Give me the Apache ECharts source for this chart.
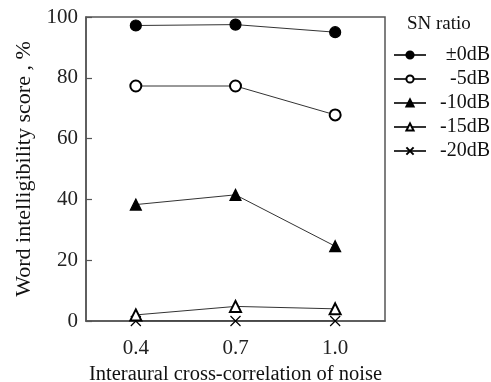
<!DOCTYPE html>
<html><head><meta charset="utf-8">
<script src="https://cdn.jsdelivr.net/npm/echarts@6/dist/echarts.min.js"></script>
<style>html,body{margin:0;padding:0;background:#fff}#c{width:491px;height:382px}</style>
</head><body><div id="c"></div>
<script>
const categories = ['0.4', '0.7', '1.0'];
const seriesNames = ['±0dB', '-5dB', '-10dB', '-15dB', '-20dB'];
const s0dB = [97.2, 97.5, 95.0];
const s5dB = [77.3, 77.3, 67.8];
const s10dB = [38.3, 41.5, 24.6];
const s15dB = [2.0, 4.8, 4.0];
const s20dB = [0, 0, 0];
const yTicks = [0, 20, 40, 60, 80, 100];

const FONT = '"Liberation Serif", "Times New Roman", serif';
const crossPath = 'path://M0,0L10,10M10,0L0,10';
const datas = [s0dB, s5dB, s10dB, s15dB, s20dB];
const symbols = ['circle', 'emptyCircle', 'triangle', 'emptyTriangle', crossPath];
const sizes = [11, 11, 11, 11, 10];

const chart = echarts.init(document.getElementById('c'), null, {renderer: 'canvas'});
chart.setOption({
  animation: false,
  backgroundColor: '#fff',
  grid: {left: 86, top: 17, width: 299, height: 304, containLabel: false, outerBoundsMode: 'none',
         show: true, borderColor: '#555', borderWidth: 1.5, backgroundColor: 'transparent'},
  title: {text: 'SN ratio', left: 407, top: 15, padding: 0, textStyle: {fontFamily: FONT, fontSize: 19, fontWeight: 'normal', color: '#111'}},
  legend: {
    orient: 'vertical', left: 393, top: 45, padding: 0, itemWidth: 32, itemHeight: 9, itemGap: 4,
    data: seriesNames.map(n => ({name: n})),
    formatter: n => '{t|' + n + '}',
    textStyle: {fontFamily: FONT, fontSize: 20, color: '#111', rich: {t: {width: 59, height: 20, lineHeight: 20, align: 'right', fontFamily: FONT, fontSize: 20}}}
  },
  xAxis: {
    type: 'category', data: categories, boundaryGap: true,
    name: 'Interaural cross-correlation of noise', nameLocation: 'middle', nameGap: 42,
    nameTextStyle: {fontFamily: FONT, fontSize: 20.5, color: '#111'},
    axisLine: {lineStyle: {color: '#555', width: 1.5}},
    axisTick: {show: false},
    axisLabel: {fontFamily: FONT, fontSize: 21, color: '#222', margin: 17},
    splitLine: {show: false}
  },
  yAxis: {
    type: 'value', min: 0, max: 100, interval: 20,
    name: 'Word intelligibility score , %', nameLocation: 'middle', nameGap: 51,
    nameTextStyle: {fontFamily: FONT, fontSize: 22, color: '#111'},
    axisLine: {show: true, lineStyle: {color: '#555', width: 1.5}},
    axisTick: {show: true, inside: true, length: 6, lineStyle: {color: '#555', width: 1.2}},
    axisLabel: {fontFamily: FONT, fontSize: 21, color: '#222', margin: 8, formatter: v => yTicks.includes(v) ? String(v) : ''},
    splitLine: {show: false}
  },
  series: seriesNames.map((n, i) => ({
    name: n, type: 'line', data: datas[i],
    symbol: symbols[i], symbolSize: sizes[i],
    lineStyle: {color: '#333', width: 1},
    itemStyle: {color: '#000', borderColor: '#000', borderWidth: 1.2},
    z: 10 - i
  }))
});
</script></body></html>
